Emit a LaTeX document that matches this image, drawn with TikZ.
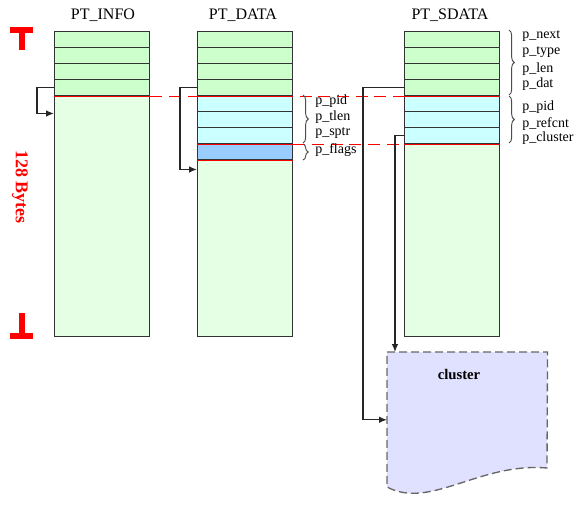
\documentclass[tikz,border=0pt]{standalone}
\usepackage{fontspec}
\setmainfont{Liberation Serif}
\usepackage{tikz}
\usetikzlibrary{decorations.pathreplacing, arrows.meta}
\definecolor{hdrgreen}{RGB}{204, 255, 204}
\definecolor{bodygreen}{RGB}{229, 255, 229}
\definecolor{fieldcyan}{RGB}{204, 255, 255}
\definecolor{flagblue}{RGB}{153, 204, 255}
\definecolor{clusterfill}{RGB}{224, 224, 255}
\definecolor{sizered}{RGB}{255, 0, 0}

\begin{document}
\begin{tikzpicture}[x=0.75pt, y=-0.75pt,
    body/.style={rectangle, draw=black!80, line width=1.1pt, fill=bodygreen,
                 minimum width=71.25pt, minimum height=228.75pt, inner sep=0pt, anchor=north west},
    cell/.style={rectangle, draw=black!80, line width=1.1pt,
                 minimum width=71.25pt, minimum height=12pt, inner sep=0pt, anchor=north west},
    title/.style={font=\fontsize{12}{12}\selectfont},
    field/.style={font=\fontsize{10.5}{10.5}\selectfont, anchor=west, inner sep=0pt},
    redsolid/.style={draw=sizered, line width=1pt},
    reddash/.style={draw=sizered, line width=1pt, dash pattern=on 9pt off 5pt},
    arrow/.style={-{Latex[length=6pt, width=5pt]}, draw=black!85, line width=1pt},
    fieldbrace/.style={decorate, decoration={brace, amplitude=4pt}, draw=black!70, line width=0.7pt}
  ]
    \useasboundingbox (0,0) rectangle (588,518);

    % three memory blocks
    \foreach \col/\x in {info/54, data/197, sdata/404} {
      \node[body] (\col) at (\x,31) {};
      \foreach \i in {1,...,4}
        \node[cell, fill=hdrgreen] (\col\i) at (\x,{31+16*(\i-1)}) {};
    }
    \foreach \col/\x in {data/197, sdata/404}
      \foreach \i in {5,6,7}
        \node[cell, fill=fieldcyan] (\col\i) at (\x,{31+16*(\i-1)}) {};
    \node[cell, fill=flagblue] (data8) at (197,143) {};

    \node[title] (infotitle)  at (103,15) {PT\_INFO};
    \node[title] (datatitle)  at (243,15) {PT\_DATA};
    \node[title] (sdatatitle) at (450,15) {PT\_SDATA};

    % red boundaries
    \draw[reddash] (info4.south east) -- (sdata4.south west);
    \draw[reddash] (data7.south east) -- (sdata7.south west);
    \foreach \c in {info4, data4, sdata4, data7, sdata7, data8}
      \draw[redsolid] (\c.south west) -- (\c.south east);

    % 128 bytes size mark
    \draw[sizered, line width=4pt] (10,30) -- (33,30);
    \draw[sizered, line width=4.5pt] (21.5,30) -- (21.5,50);
    \draw[sizered, line width=4pt] (10,336) -- (33,336);
    \draw[sizered, line width=4.5pt] (21.5,336) -- (21.5,313);
    \node[rotate=-90, text=sizered, font=\fontsize{13.5}{13.5}\selectfont\bfseries] (size) at (20,187) {128 Bytes};

    % cluster buffer
    \node[minimum width=120pt, minimum height=101.25pt, inner sep=0pt, anchor=north west] (cluster) at (387,352) {};
    \draw[draw=black!60, fill=clusterfill, line width=1pt, dash pattern=on 6pt off 3pt]
      (cluster.north west) -- (cluster.north east) -- (547,468)
      .. controls (480,462) and (430,510) .. (387,487) -- cycle;
    \node[font=\fontsize{11}{11}\selectfont\bfseries] (clusterlabel) at (459,374) {cluster};

    % pointers
    \draw[arrow] (info4.west) -- ++(-17,0) |- ([yshift=-12.75pt]info4.south west);
    \draw[arrow] (data4.west) -- ++(-17,0) |- ([yshift=-6.75pt]data8.south west);
    \draw[arrow] (sdata4.west) -- ++(-41,0) |- (cluster.west);
    \draw[arrow] (sdata7.west) -- ++(-9,0) -- ([xshift=6pt]cluster.north west);

    % field braces and names
    \draw[fieldbrace] (303,95) -- (303,143);
    \draw[fieldbrace] (303,144) -- (303,160);
    \draw[fieldbrace] (509,30) -- (509,95);
    \draw[fieldbrace] (509,96) -- (509,143);
    \foreach \name/\y [count=\k] in {p\_pid/101, p\_tlen/117, p\_sptr/133, p\_flags/150}
      \node[field] (dname\k) at (315,\y) {\name};
    \foreach \name/\y [count=\k] in {p\_next/36, p\_type/52, p\_len/69, p\_dat/84, p\_pid/107, p\_refcnt/124, p\_cluster/138}
      \node[field] (sname\k) at (522,\y) {\name};
  \end{tikzpicture}
\end{document}
